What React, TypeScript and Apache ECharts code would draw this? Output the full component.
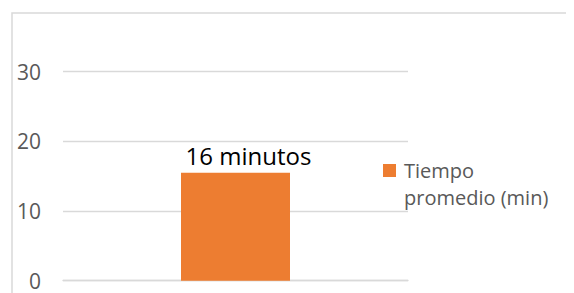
import React, { useEffect, useRef } from "react";
import * as echarts from "echarts";

const categories = ["Tiempo"];
const seriesName = "Tiempo promedio (min)";
const legendLines = ["Tiempo", "promedio (min)"];
const values = [15.5];
const barLabels = ["16 minutos"];
const yTicks = { min: 0, max: 30, interval: 10 };

export default function App() {
  const ref = useRef<HTMLDivElement>(null);
  useEffect(() => {
    if (!ref.current) return;
    const chart = echarts.init(ref.current, undefined, { renderer: "svg" });
    chart.setOption({
      animation: false,
      textStyle: { fontFamily: "Open Sans" },
      graphic: [
        {
          type: "rect",
          shape: { x: 4, y: 5, width: 700, height: 400 },
          style: { fill: "none", stroke: "#d9d9d9", lineWidth: 1.5 },
          silent: true,
        },
      ],
      grid: { left: 55, top: 63.7, width: 345, height: 209, containLabel: false },
      legend: {
        left: 375,
        top: 122,
        padding: 0,
        itemWidth: 13,
        itemHeight: 13,
        icon: "rect",
        formatter: () => "\n" + legendLines.map((l) => "{a|" + l + "}").join("\n"),
        textStyle: {
          color: "#595959",
          fontSize: 20,
          lineHeight: 27,
          fontFamily: "Open Sans",
          rich: {
            a: {
              color: "#595959",
              fontSize: 20,
              lineHeight: 27,
              fontFamily: "Open Sans",
              padding: [0, 0, 0, 3],
            },
          },
        },
        data: [seriesName],
      },
      xAxis: {
        type: "category",
        data: categories,
        axisLine: { show: true, lineStyle: { color: "#d9d9d9", width: 1.3 } },
        axisTick: { show: false },
        axisLabel: { show: false },
      },
      yAxis: {
        type: "value",
        min: yTicks.min,
        max: yTicks.max,
        interval: yTicks.interval,
        axisLine: { show: false },
        axisTick: { show: false },
        axisLabel: { color: "#595959", fontSize: 21, margin: 22, fontFamily: "Open Sans" },
        splitLine: { lineStyle: { color: "#d9d9d9", width: 1.3 } },
      },
      series: [
        {
          name: seriesName,
          type: "bar",
          data: values,
          barWidth: 109,
          itemStyle: { color: "#ED7D31" },
          label: {
            show: true,
            position: "top",
            formatter: (p: any) => barLabels[p.dataIndex],
            color: "#000",
            fontSize: 24,
            offset: [13, 0],
            fontFamily: "Open Sans",
          },
        },
      ],
    });
    return () => chart.dispose();
  }, []);
  return <div ref={ref} style={{ width: 566, height: 285 }} />;
}
